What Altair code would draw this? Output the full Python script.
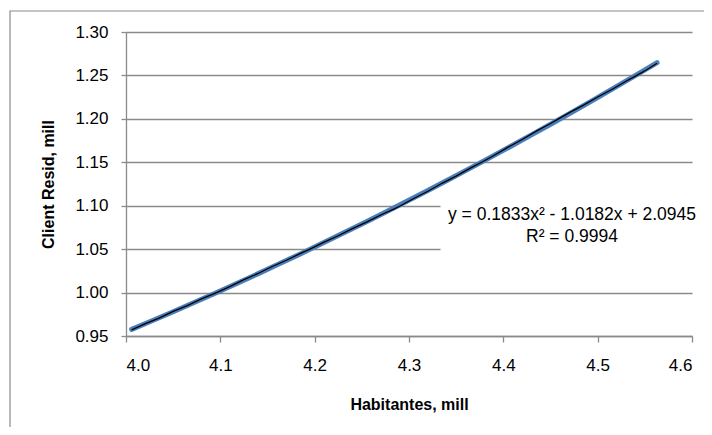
import altair as alt
import pandas as pd

habitantes = [4.006, 4.020, 4.035, 4.050, 4.065, 4.080, 4.096, 4.110, 4.125, 4.140,
              4.155, 4.170, 4.185, 4.195, 4.210, 4.225, 4.240, 4.255, 4.270, 4.285,
              4.291, 4.305, 4.320, 4.335, 4.350, 4.365, 4.377, 4.390, 4.405, 4.420,
              4.435, 4.450, 4.4585, 4.470, 4.485, 4.500, 4.515, 4.530, 4.5415, 4.552, 4.563]
clientes = [0.957, 0.9640, 0.9705, 0.9783, 0.9850, 0.9927, 1.0000, 1.0068, 1.0149, 1.0220,
            1.0300, 1.0372, 1.0451, 1.0500, 1.0580, 1.0654, 1.0736, 1.0811, 1.0893, 1.0967,
            1.1000, 1.1083, 1.1166, 1.1258, 1.1341, 1.1432, 1.1500, 1.1578, 1.1674, 1.1762,
            1.1858, 1.1946, 1.2000, 1.2071, 1.2158, 1.2252, 1.2338, 1.2433, 1.2500, 1.2566, 1.2640]

x_ticks = [4.0, 4.1, 4.2, 4.3, 4.4, 4.5, 4.6]
y_ticks = [0.95, 1.00, 1.05, 1.10, 1.15, 1.20, 1.25, 1.30]

eq_lines = ["y = 0.1833x\u00b2 - 1.0182x + 2.0945", "R\u00b2 = 0.9994"]

x_title = "Habitantes, mill"
y_title = "Client Resid, mill"

df = pd.DataFrame({"Habitantes": habitantes, "Clientes": clientes})

FONT = "Liberation Sans"
GRAY = "#8a8a8a"

x_enc = alt.X("Habitantes:Q",
              scale=alt.Scale(domain=[4.0, 4.6], nice=False, zero=False),
              axis=alt.Axis(values=x_ticks, format=".1f", title=x_title, grid=False,
                            tickSize=6, labelPadding=15, titlePadding=23))
y_enc = alt.Y("Clientes:Q",
              scale=alt.Scale(domain=[0.95, 1.30], nice=False, zero=False),
              axis=alt.Axis(values=y_ticks, format=".2f", title=y_title, grid=True,
                            tickSize=5, labelPadding=13, titlePadding=18))

base = alt.Chart(df)

trend = base.transform_regression(
    "Habitantes", "Clientes", method="poly", order=2
).mark_line(color="#4A7EBB", strokeWidth=5, strokeCap="round").encode(x=x_enc, y=y_enc)

data_line = base.mark_line(color="black", strokeWidth=1.3).encode(x=x_enc, y=y_enc)

box = alt.Chart(pd.DataFrame({"k": [0]})).mark_rect(fill="white", stroke="white").encode(
    x=alt.value(315), x2=alt.value(575), y=alt.value(160), y2=alt.value(230))

border = alt.Chart(pd.DataFrame({"k": [0]})).mark_rect(
    fillOpacity=0, stroke=GRAY, strokeWidth=1.2).encode(
    x=alt.value(-116), x2=alt.value(700), y=alt.value(-21), y2=alt.value(600))

eq1 = alt.Chart(pd.DataFrame({"t": [eq_lines[0]]})).mark_text(
    font=FONT, fontSize=17.5, color="black", align="center", baseline="middle").encode(
    x=alt.value(446), y=alt.value(183), text="t:N")
eq2 = alt.Chart(pd.DataFrame({"t": [eq_lines[1]]})).mark_text(
    font=FONT, fontSize=17.5, color="black", align="center", baseline="middle").encode(
    x=alt.value(446), y=alt.value(205), text="t:N")

chart = alt.layer(border, box, trend, data_line, eq1, eq2).properties(
    width=566, height=304,
    padding={"left": 118, "top": 24, "right": 12, "bottom": 91},
    autosize=alt.AutoSizeParams(type="none"),
    background="white",
).configure_view(strokeWidth=0).configure_axis(
    labelFont=FONT, labelFontSize=17, labelColor="black",
    titleFont=FONT, titleFontSize=16, titleFontWeight="bold", titleColor="black",
    domainColor=GRAY, tickColor=GRAY, gridColor=GRAY, gridWidth=1.3, domainWidth=1.3,
    tickWidth=1.3, gridOpacity=1,
)

chart.save("out.html", embed_options={"renderer": "svg", "actions": False})
